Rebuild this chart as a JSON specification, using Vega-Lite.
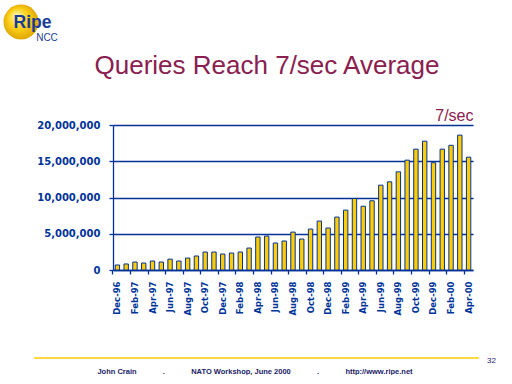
{
  "$schema": "https://vega.github.io/schema/vega-lite/v6.json",
  "background": "white",
  "padding": {"left": 3, "top": 4, "right": 0, "bottom": 0},
  "spacing": 10,
  "config": {"view": {"stroke": null}, "font": "Liberation Sans"},
  "vconcat": [
    {
      "data": {"values": [{}]},
      "width": 36,
      "height": 36,
      "layer": [
        {
          "mark": {"type": "point", "shape": "circle", "filled": true, "size": 1225, "opacity": 1, "strokeWidth": 0, "xOffset": -110,
            "fill": {"gradient": "radial", "x1": 0.35, "y1": 0.3, "r1": 0, "x2": 0.5, "y2": 0.5, "r2": 0.55,
              "stops": [{"offset": 0, "color": "#fff8c0"}, {"offset": 0.5, "color": "#ffd21a"}, {"offset": 1, "color": "#d9a000"}]}},
          "encoding": {}
        },
        {
          "mark": {"type": "text", "text": "Ripe", "font": "Liberation Sans", "fontWeight": "bold", "fontSize": 17.5, "color": "#1a3c96", "align": "center", "baseline": "alphabetic", "dx": -98.5, "dy": 6},
          "encoding": {}
        },
        {
          "mark": {"type": "text", "text": "NCC", "font": "Liberation Sans", "fontSize": 10, "color": "#1a3c96", "align": "center", "baseline": "alphabetic", "dx": -84, "dy": 18.5},
          "encoding": {}
        }
      ]
    },
    {
      "width": 360,
      "height": 145,
      "title": {"text": "Queries Reach 7/sec Average", "font": "Liberation Sans", "fontSize": 26, "fontWeight": "normal", "color": "#8a2050", "anchor": "middle", "frame": "group", "dx": -26, "offset": 28},
      "data": {"values": [
        {"month": "Dec-96", "queries": 690000},
        {"month": "Jan-97", "queries": 830000},
        {"month": "Feb-97", "queries": 1100000},
        {"month": "Mar-97", "queries": 960000},
        {"month": "Apr-97", "queries": 1240000},
        {"month": "May-97", "queries": 1100000},
        {"month": "Jun-97", "queries": 1500000},
        {"month": "Jul-97", "queries": 1240000},
        {"month": "Aug-97", "queries": 1650000},
        {"month": "Sep-97", "queries": 1930000},
        {"month": "Oct-97", "queries": 2480000},
        {"month": "Nov-97", "queries": 2480000},
        {"month": "Dec-97", "queries": 2200000},
        {"month": "Jan-98", "queries": 2340000},
        {"month": "Feb-98", "queries": 2480000},
        {"month": "Mar-98", "queries": 3030000},
        {"month": "Apr-98", "queries": 4550000},
        {"month": "May-98", "queries": 4680000},
        {"month": "Jun-98", "queries": 3720000},
        {"month": "Jul-98", "queries": 4000000},
        {"month": "Aug-98", "queries": 5230000},
        {"month": "Sep-98", "queries": 4270000},
        {"month": "Oct-98", "queries": 5650000},
        {"month": "Nov-98", "queries": 6750000},
        {"month": "Dec-98", "queries": 5790000},
        {"month": "Jan-99", "queries": 7300000},
        {"month": "Feb-99", "queries": 8260000},
        {"month": "Mar-99", "queries": 9860000},
        {"month": "Apr-99", "queries": 8800000},
        {"month": "May-99", "queries": 9550000},
        {"month": "Jun-99", "queries": 11700000},
        {"month": "Jul-99", "queries": 12160000},
        {"month": "Aug-99", "queries": 13540000},
        {"month": "Sep-99", "queries": 15150000},
        {"month": "Oct-99", "queries": 16670000},
        {"month": "Nov-99", "queries": 17770000},
        {"month": "Dec-99", "queries": 14800000},
        {"month": "Jan-00", "queries": 16670000},
        {"month": "Feb-00", "queries": 17200000},
        {"month": "Mar-00", "queries": 18600000},
        {"month": "Apr-00", "queries": 15560000}
      ]},
      "mark": {"type": "bar", "fill": "#ffcc00", "stroke": "#003399", "strokeWidth": 1},
      "encoding": {
        "x": {"field": "month", "type": "ordinal", "sort": null,
          "scale": {"paddingInner": 0.5, "paddingOuter": 0.25},
          "axis": {"values": ["Dec-96", "Feb-97", "Apr-97", "Jun-97", "Aug-97", "Oct-97", "Dec-97", "Feb-98", "Apr-98", "Jun-98", "Aug-98", "Oct-98", "Dec-98", "Feb-99", "Apr-99", "Jun-99", "Aug-99", "Oct-99", "Dec-99", "Feb-00", "Apr-00"],
            "labelAngle": -90, "labelFont": "DejaVu Sans", "labelFontWeight": "bold", "labelFontSize": 8.5, "labelColor": "#003399", "labelPadding": 7, "labelOverlap": false,
            "tickColor": "#003399", "tickSize": 4, "tickWidth": 1.3, "domainColor": "#003399", "domainWidth": 1.3, "bandPosition": -0.5, "grid": false,
            "title": "|", "titleOpacity": 0, "titleFontSize": 10, "titleAlign": "left", "titleBaseline": "bottom", "titleAnchor": null, "titleX": 0, "titleY": 77}},
        "y": {"field": "queries", "type": "quantitative",
          "scale": {"domain": [0, 20000000], "nice": false},
          "axis": {"values": [0, 5000000, 10000000, 15000000, 20000000], "tickCount": 5, "format": ",d", "labelOverlap": false,
            "grid": true, "gridColor": "#003399", "gridWidth": 1.3,
            "domainColor": "#003399", "domainWidth": 1.3, "tickColor": "#003399", "tickSize": 4, "tickWidth": 1.3,
            "labelFont": "DejaVu Sans", "labelFontWeight": "bold", "labelFontSize": 10, "labelColor": "#003399", "labelPadding": 9,
            "title": "7/sec", "titleFont": "Liberation Sans", "titleFontSize": 16, "titleFontWeight": "normal", "titleColor": "#8a2050",
            "titleAngle": 0, "titleAlign": "right", "titleBaseline": "alphabetic", "titleX": 360, "titleY": -5}}
      }
    },
    {
      "data": {"values": [{}]},
      "width": 366,
      "height": 15,
      "layer": [
        {
          "mark": {"type": "rule", "color": "#ffcc00", "strokeWidth": 1.5},
          "encoding": {
            "x": {"datum": -0.2158, "type": "quantitative", "scale": {"domain": [0, 1]}, "axis": null},
            "x2": {"datum": 1},
            "y": {"datum": 1, "type": "quantitative", "scale": {"domain": [0, 1]}, "axis": null}
          }
        },
        {
          "mark": {"type": "text", "text": "John Crain\u2003\u2003\u2003\u2002.\u2003\u2003\u2003\u2002NATO Workshop, June 2000\u2003\u2003\u2003\u2002.\u2003\u2003\u2003\u2002http://www.ripe.net", "font": "Liberation Sans", "fontWeight": "bold", "fontSize": 7.5, "color": "#1a1a66", "align": "center", "baseline": "alphabetic", "dy": 8},
          "encoding": {"x": {"datum": 0.388, "type": "quantitative", "axis": null}}
        },
        {
          "mark": {"type": "text", "text": "32", "font": "Liberation Sans", "fontSize": 8, "color": "#1a1a66", "align": "left", "baseline": "middle", "dx": 8, "dy": -4.5},
          "encoding": {"x": {"datum": 1, "type": "quantitative", "axis": null}}
        }
      ]
    }
  ]
}
